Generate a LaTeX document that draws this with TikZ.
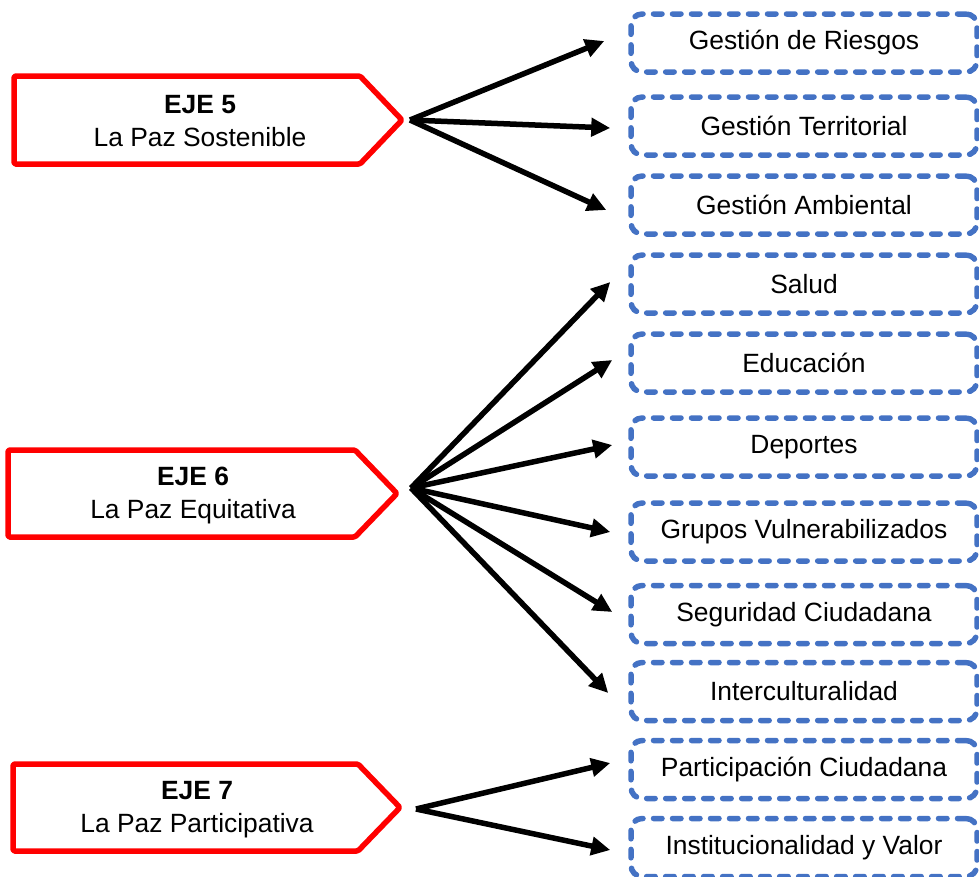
\documentclass[tikz,border=0pt]{standalone}
\usepackage{fontspec}
\setmainfont{Liberation Sans}
\usetikzlibrary{arrows.meta}

\definecolor{ejered}{RGB}{255,0,0}
\definecolor{subblue}{RGB}{68,114,196}

\begin{document}
\begin{tikzpicture}[x=1pt,y=-1pt,
  ejeshape/.style={draw=ejered,line width=5.5pt,line join=round,rounded corners=1.5pt},
  ejetext/.style={align=center,font=\fontsize{26.4}{33}\selectfont,inner sep=0pt},
  subbox/.style={draw=subblue,line width=5.5pt,dash pattern=on 8.5pt off 10.5pt,line cap=round,
    rounded corners=11pt,minimum width=346pt,minimum height=58pt,inner sep=0pt,
    font=\fontsize{26.4}{31}\selectfont},
  link/.style={line width=5.5pt,-{Triangle[length=19pt,width=18pt]}}]

\clip (0,0) rectangle (979,876);
\useasboundingbox (0,0) rectangle (979,876);

% --- Axis 5 ---
\draw[ejeshape] (14,76) -- (360,76) -- (402,120) -- (360,164) -- (14,164) -- cycle;
\node[ejetext] (eje5) at (200,121) {\textbf{EJE 5}\\La Paz Sostenible};
\coordinate (h5) at (410,120);

% --- Axis 6 ---
\draw[ejeshape] (8,450) -- (355,450) -- (397,493.5) -- (355,537) -- (8,537) -- cycle;
\node[ejetext] (eje6) at (193,496) {\textbf{EJE 6}\\La Paz Equitativa};
\coordinate (h6) at (411,488);

% --- Axis 7 ---
\draw[ejeshape] (13,764) -- (358,764) -- (400,807.5) -- (358,851) -- (13,851) -- cycle;
\node[ejetext] (eje7) at (197,810) {\textbf{EJE 7}\\La Paz Participativa};
\coordinate (h7) at (416,809);

% --- Programme boxes ---
\node[subbox] (b1)  at (804,43)    {Gestión de Riesgos};
\node[subbox] (b2)  at (804,126)   {Gestión Territorial};
\node[subbox] (b3)  at (804,205)   {Gestión Ambiental};
\node[subbox] (b4)  at (804,284)   {Salud};
\node[subbox] (b5)  at (804,363)   {Educación};
\node[subbox] (b6)  at (804,447)   {Deportes};
\node[subbox] (b7)  at (804,532)   {Grupos Vulnerabilizados};
\node[subbox] (b8)  at (804,614.5) {Seguridad Ciudadana};
\node[subbox] (b9)  at (804,691.5) {Interculturalidad};
\node[subbox] (b10) at (804,769.5) {Participación Ciudadana};
\node[subbox] (b11) at (804,847.5) {Institucionalidad y Valor};

% --- Connectors ---
\draw[link] (h5) -- ([xshift=-24pt,yshift=2pt]b1.west);
\draw[link] (h5) -- ([xshift=-18pt,yshift=-2pt]b2.west);
\draw[link] (h5) -- ([xshift=-22pt,yshift=-5pt]b3.west);

\draw[link] (h6) -- ([xshift=-18pt,yshift=2pt]b4.west);
\draw[link] (h6) -- ([xshift=-16pt,yshift=3pt]b5.west);
\draw[link] (h6) -- ([xshift=-16pt,yshift=2pt]b6.west);
\draw[link] (h6) -- ([xshift=-18pt,yshift=0pt]b7.west);
\draw[link] (h6) -- ([xshift=-16pt,yshift=2.5pt]b8.west);
\draw[link] (h6) -- ([xshift=-20pt,yshift=-1.5pt]b9.west);

\draw[link] (h7) -- ([xshift=-18pt,yshift=6.5pt]b10.west);
\draw[link] (h7) -- ([xshift=-18pt,yshift=-2.5pt]b11.west);

\end{tikzpicture}
\end{document}
